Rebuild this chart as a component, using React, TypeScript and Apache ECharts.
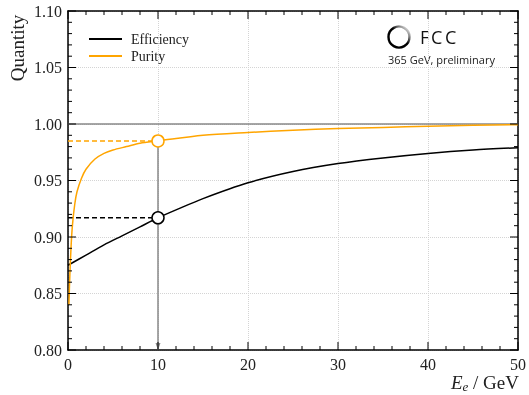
import React, { useEffect, useRef } from "react";
import * as echarts from "echarts";

const effX = [0, 2, 4, 6, 8, 10, 12, 15, 20, 25, 30, 35, 40, 45, 50];
const effY = [0.875, 0.884, 0.893, 0.901, 0.909, 0.917, 0.924, 0.934, 0.948, 0.958, 0.965, 0.970, 0.974, 0.977, 0.979];

const purX = [0.1, 0.2, 0.35, 0.5, 0.75, 1, 1.5, 2, 3, 4, 5, 6.5, 8, 10, 15, 20, 25, 30, 35, 40, 45, 50];
const purY = [0.84, 0.865, 0.893, 0.911, 0.929, 0.94, 0.952, 0.96, 0.969, 0.974, 0.977, 0.98, 0.983, 0.985, 0.990, 0.9925, 0.9945, 0.996, 0.997, 0.998, 0.9988, 0.9994];

const workingPointX = 10;
const workingEff = 0.917;
const workingPur = 0.985;

const xTicks = [0, 10, 20, 30, 40, 50];
const yTicks = [0.8, 0.85, 0.9, 0.95, 1.0, 1.05, 1.1];
const minorPerMajor = 5;

const ORANGE = "#FFA500";
const SERIF = "'Liberation Serif', 'DejaVu Serif', serif";
const SANS = "'Open Sans', 'DejaVu Sans', sans-serif";

function buildTickItems() {
  const items: number[][] = [];
  const addAxis = (ticks: number[], axisId: number) => {
    for (let i = 0; i < ticks.length; i++) {
      items.push([axisId, ticks[i], 1]);
      if (i < ticks.length - 1) {
        const step = (ticks[i + 1] - ticks[i]) / minorPerMajor;
        for (let k = 1; k < minorPerMajor; k++) {
          items.push([axisId, Math.round((ticks[i] + k * step) * 1e6) / 1e6, 0]);
        }
      }
    }
  };
  addAxis(xTicks, 0);
  addAxis(yTicks, 1);
  return items;
}

export default function App() {
  const ref = useRef<HTMLDivElement>(null);
  useEffect(() => {
    if (!ref.current) return;
    const chart = echarts.init(ref.current, undefined, { renderer: "svg" });
    const xMin = xTicks[0];
    const xMax = xTicks[xTicks.length - 1];
    const yMin = yTicks[0];
    const yMax = yTicks[yTicks.length - 1];
    const tickItems = buildTickItems();
    const axisLine = { show: true, onZero: false, lineStyle: { color: "#000", width: 1.5 } };
    chart.setOption({
      animation: false,
      grid: { left: 68, right: 10, top: 11, bottom: 45 },
      legend: {
        data: ["Efficiency", "Purity"],
        orient: "vertical",
        left: 89,
        top: 32,
        padding: 0,
        itemWidth: 33,
        itemHeight: 2,
        itemGap: 3,
        icon: "rect",
        textStyle: { fontFamily: SERIF, fontSize: 14, color: "#222", padding: [0, 0, 0, 4] },
      },
      xAxis: [
        {
          type: "value",
          min: xMin,
          max: xMax,
          interval: 10,
          position: "bottom",
          axisLine,
          axisTick: { show: false },
          axisLabel: { show: true, fontFamily: SERIF, fontSize: 16, color: "#222", margin: 6 },
          splitLine: { show: true, lineStyle: { color: "#d4d4d4", type: "dotted", width: 1 } },
        },
        {
          type: "value",
          min: xMin,
          max: xMax,
          interval: 10,
          position: "top",
          axisLine,
          axisTick: { show: false },
          axisLabel: { show: false },
          splitLine: { show: false },
        },
      ],
      yAxis: [
        {
          type: "value",
          min: yMin,
          max: yMax,
          interval: 0.05,
          position: "left",
          axisLine,
          axisTick: { show: false },
          axisLabel: {
            show: true,
            fontFamily: SERIF,
            fontSize: 16,
            color: "#222",
            margin: 6,
            formatter: (v: number) => v.toFixed(2),
          },
          splitLine: { show: true, lineStyle: { color: "#d4d4d4", type: "dotted", width: 1 } },
        },
        {
          type: "value",
          min: yMin,
          max: yMax,
          interval: 0.05,
          position: "right",
          axisLine,
          axisTick: { show: false },
          axisLabel: { show: false },
          splitLine: { show: false },
        },
      ],
      series: [
        {
          name: "ref",
          type: "line",
          data: [[0, 1], [50, 1]],
          symbol: "none",
          lineStyle: { color: "#888", width: 1.5 },
          z: 1,
          silent: true,
        },
        {
          name: "vline",
          type: "line",
          data: [[workingPointX, workingPur], [workingPointX, 0.8]],
          symbol: "none",
          lineStyle: { color: "#888", width: 1.5 },
          z: 1,
          markLine: {
            silent: true,
            symbol: ["none", "triangle"],
            symbolSize: [5, 7],
            label: { show: false },
            lineStyle: { color: "#888", width: 0.01, type: "solid" },
            data: [[{ coord: [workingPointX, 0.81] }, { coord: [workingPointX, 0.803] }]],
          },
        },
        {
          name: "Efficiency",
          type: "line",
          data: effX.map((x, i) => [x, effY[i]]),
          symbol: "none",
          smooth: 0.3,
          color: "#000",
          lineStyle: { color: "#000", width: 1.5 },
          z: 3,
        },
        {
          name: "Purity",
          type: "line",
          data: purX.map((x, i) => [x, purY[i]]),
          symbol: "none",
          smooth: 0.3,
          color: ORANGE,
          lineStyle: { color: ORANGE, width: 1.5 },
          z: 3,
        },
        {
          name: "effDash",
          type: "line",
          data: [[0, workingEff], [workingPointX, workingEff]],
          symbol: "none",
          lineStyle: { color: "#000", width: 1.5, type: [5, 3] },
          z: 2,
        },
        {
          name: "purDash",
          type: "line",
          data: [[0, workingPur], [workingPointX, workingPur]],
          symbol: "none",
          lineStyle: { color: ORANGE, width: 1.5, type: [5, 3] },
          z: 2,
        },
        {
          name: "markEff",
          type: "scatter",
          data: [[workingPointX, workingEff]],
          symbol: "circle",
          symbolSize: 12,
          itemStyle: { color: "#fff", borderColor: "#000", borderWidth: 1.5, opacity: 1 },
          z: 5,
        },
        {
          name: "markPur",
          type: "scatter",
          data: [[workingPointX, workingPur]],
          symbol: "circle",
          symbolSize: 12,
          itemStyle: { color: "#fff", borderColor: ORANGE, borderWidth: 1.5, opacity: 1 },
          z: 5,
        },
        {
          name: "ticks",
          type: "custom",
          silent: true,
          clip: false,
          z: 6,
          encode: { x: -1, y: -1 },
          data: tickItems,
          renderItem: (params: any, api: any) => {
            const axisId = api.value(0);
            const v = api.value(1);
            const major = api.value(2) === 1;
            const len = major ? 8 : 4;
            const style = { stroke: "#000", lineWidth: 1 };
            if (axisId === 0) {
              const b = api.coord([v, yMin]);
              const t = api.coord([v, yMax]);
              return {
                type: "group",
                children: [
                  { type: "line", shape: { x1: b[0], y1: b[1], x2: b[0], y2: b[1] - len }, style },
                  { type: "line", shape: { x1: t[0], y1: t[1], x2: t[0], y2: t[1] + len }, style },
                ],
              };
            }
            const l = api.coord([xMin, v]);
            const r = api.coord([xMax, v]);
            return {
              type: "group",
              children: [
                { type: "line", shape: { x1: l[0], y1: l[1], x2: l[0] + len, y2: l[1] }, style },
                { type: "line", shape: { x1: r[0], y1: r[1], x2: r[0] - len, y2: r[1] }, style },
              ],
            };
          },
        },
      ],
      graphic: [
        {
          type: "text",
          x: 17,
          y: 48,
          rotation: Math.PI / 2,
          style: {
            text: "Quantity",
            fontFamily: SERIF,
            fontSize: 19,
            fill: "#222",
            align: "center",
            verticalAlign: "middle",
          },
        },
        {
          type: "text",
          x: 519,
          y: 382,
          style: {
            text: "{i|E}{s|e}{n| / GeV}",
            align: "right",
            verticalAlign: "middle",
            rich: {
              i: { fontFamily: SERIF, fontStyle: "italic", fontSize: 19, fill: "#222" },
              s: { fontFamily: SERIF, fontStyle: "italic", fontSize: 13, fill: "#222", padding: [8, 0, 0, 0] },
              n: { fontFamily: SERIF, fontSize: 19, fill: "#222" },
            },
          },
        },
        {
          type: "circle",
          shape: { cx: 399, cy: 37, r: 10.5 },
          style: {
            fill: "none",
            lineWidth: 2.4,
            stroke: new echarts.graphic.LinearGradient(0, 1, 1, 0, [
              { offset: 0, color: "#000" },
              { offset: 0.55, color: "#000" },
              { offset: 0.85, color: "#bbb" },
              { offset: 1, color: "#f4f4f4" },
            ]),
          },
        },
        {
          type: "text",
          x: 420,
          y: 37,
          style: { text: "F", fontFamily: SANS, fontSize: 18, fontWeight: 500, fill: "#111", verticalAlign: "middle" },
        },
        {
          type: "text",
          x: 431,
          y: 37,
          style: { text: "C", fontFamily: SANS, fontSize: 18, fontWeight: 500, fill: "#111", verticalAlign: "middle" },
        },
        {
          type: "text",
          x: 445,
          y: 37,
          style: { text: "C", fontFamily: SANS, fontSize: 18, fontWeight: 500, fill: "#111", verticalAlign: "middle" },
        },
        {
          type: "text",
          x: 388,
          y: 59,
          style: { text: "365 GeV, preliminary", fontFamily: SANS, fontSize: 11, fill: "#222", verticalAlign: "middle" },
        },
      ],
    });
    return () => chart.dispose();
  }, []);
  return <div ref={ref} style={{ position: "fixed", left: 0, top: 0, width: 529, height: 395 }} />;
}
